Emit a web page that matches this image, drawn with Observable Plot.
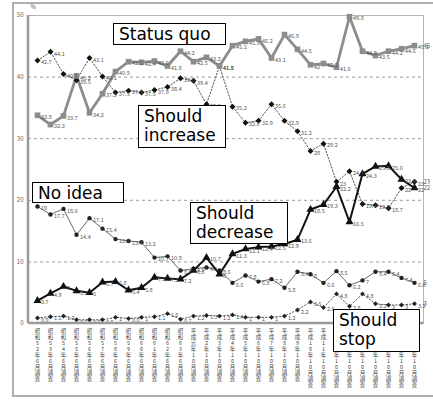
<!DOCTYPE html>
<html><head><meta charset="utf-8">
<script src="https://cdn.jsdelivr.net/npm/d3@7"></script>
<script src="https://cdn.jsdelivr.net/npm/@observablehq/plot@0.6"></script>
<style>
html,body{margin:0;padding:0;background:#fff;}
#wrap{position:relative;width:433px;height:401px;overflow:hidden;}
#outer{position:absolute;left:12px;top:2px;width:430px;height:395px;border:2px solid #b0b0b0;box-sizing:border-box;}
.box{position:absolute;background:#fff;border:1.5px solid #000;box-sizing:border-box;font-family:"DejaVu Sans",sans-serif;font-size:17px;line-height:19px;padding:1px 0 0 5px;color:#000;white-space:pre;}
#chart{position:absolute;left:0;top:0;}
</style></head>
<body><div id="wrap"><div id="outer"></div><div id="chart"></div>
<div class="box" style="left:113px;top:23px;width:113px;height:22px;">Status quo</div>
<div class="box" style="left:138px;top:105px;width:88px;height:43px;">Should
increase</div>
<div class="box" style="left:32px;top:182px;width:92px;height:21px;">No idea</div>
<div class="box" style="left:190px;top:202px;width:98px;height:42px;">Should
decrease</div>
<div class="box" style="left:333px;top:309px;width:87px;height:43px;">Should
stop</div>
</div>
<script>
const categories = [
 "昭和52年6月調査","昭和53年6月調査","昭和54年6月調査","昭和55年6月調査","昭和56年6月調査",
 "昭和57年6月調査","昭和58年6月調査","昭和59年6月調査","昭和60年6月調査","昭和61年6月調査",
 "昭和62年6月調査","昭和63年6月調査","平成元年10月調査","平成2年10月調査","平成3年10月調査",
 "平成4年10月調査","平成5年10月調査","平成6年10月調査","平成7年10月調査","平成8年10月調査",
 "平成9年10月調査","平成10年10月調査","平成11年10月調査","平成12年10月調査","平成13年10月調査",
 "平成14年10月調査","平成15年10月調査","平成16年10月調査","平成17年10月調査","平成18年10月調査"
];
const statusQuo = [33.8,32.3,33.7,40.2,34.2,37.3,40.9,42.5,42.4,42.6,41.8,44.2,42.5,43.2,41.8,45.1,45.8,46.2,43.1,46.9,44.5,42,42.2,41.6,49.8,44.2,43.5,44.2,44.6,45.1];
const shouldIncrease = [42.7,44.1,40.5,39.5,43.1,40.1,37.5,37.8,37.5,37.9,38.4,39.8,39.4,35.6,41.8,35.2,32.6,32.9,35.6,32.9,31.2,28,29.2,23,24.7,19.4,19.2,18.7,22,23];
const noIdea = [19,17.7,18.6,14.4,17.1,15.4,13.7,13.4,13.2,10.7,10.9,8.6,8.9,9.1,8.6,6.6,7.8,6.8,7.2,5.8,8.4,8,6.6,8.5,6.2,7,8.4,8.4,7.4,6.6];
const shouldDecrease = [3.7,4.9,6,5.3,5,6.7,6.8,5.4,5.8,7.5,7.3,7.2,8.6,10.7,8,11.3,12.1,12.4,12.5,12.9,13.6,18.5,19.3,22.2,16.5,24.3,25.5,25.6,23.4,22];
const shouldStop = [0.9,1.1,1.2,0.6,0.6,0.6,1,0.8,1,1.1,1.6,0.7,1.2,1.3,1.2,1.4,1,1,1,1.2,2.2,3.5,2.6,4.8,2.8,4.8,3.2,3,3,3.2];
const yTicks = [0,10,20,30,40,50];
const gridTicks = [10,20,30,40];
const endLabels = ["45","23","22","5","3"];

const rows = (arr, s) => arr.map((v,i)=>({x:categories[i], y:v, s}));
const SQ = rows(statusQuo,"sq"), SI = rows(shouldIncrease,"si"), NI = rows(noIdea,"ni"),
      SD = rows(shouldDecrease,"sd"), SS = rows(shouldStop,"ss");
const ends = [SQ,SI,SD,NI,SS].map((r,k)=>({...r[r.length-1], t:endLabels[k]}));
const lab = (data) => Plot.text(data, {x:"x", y:"y", text:d=>String(d.y), dx:3.5, dy:2, textAnchor:"start", fontSize:5.5, fill:"#555"});

const W=433,H=401,mL=28,mR=10,mT=15,mB=78;
const chart = Plot.plot({
  width:W, height:H, marginLeft:mL, marginRight:mR, marginTop:mT, marginBottom:mB,
  x:{type:"point", domain:categories, padding:0.4, label:null},
  y:{domain:[0,50], label:null},
  style:{fontFamily:"'Noto Sans CJK JP','DejaVu Sans',sans-serif", background:"transparent", overflow:"visible"},
  marks:[
    Plot.gridY(gridTicks, {stroke:"#9a9a9a", strokeOpacity:1, strokeDasharray:"3,3"}),
    Plot.frame({stroke:"#b5b5b5", strokeWidth:1}),
    Plot.axisY(yTicks, {tickSize:0, tickPadding:5, fontSize:6, fill:"#666", label:null}),
    Plot.axisX({tickSize:0, tickPadding:5, fontSize:5.4, fill:"#444", lineHeight:1.12, lineAnchor:"top", label:null,
      tickFormat:d=>Array.from(d).join("\n")}),
    Plot.line(NI, {x:"x", y:"y", stroke:"#6a6a6a", strokeWidth:1}),
    Plot.line(SS, {x:"x", y:"y", stroke:"#555", strokeWidth:1, strokeDasharray:"1.5,2"}),
    Plot.line(SI, {x:"x", y:"y", stroke:"#555", strokeWidth:1, strokeDasharray:"1.5,1.8"}),
    Plot.line(SD, {x:"x", y:"y", stroke:"#111", strokeWidth:2}),
    Plot.line(SQ, {x:"x", y:"y", stroke:"#8c8c8c", strokeWidth:2.8}),
    Plot.dot(NI, {x:"x", y:"y", symbol:"circle", r:2.2, fill:"#222"}),
    Plot.dot(SS, {x:"x", y:"y", symbol:"diamond2", r:2.2, fill:"#222"}),
    Plot.dot(SI, {x:"x", y:"y", symbol:"diamond2", r:2.7, fill:"#111"}),
    Plot.dot(SD, {x:"x", y:"y", symbol:"triangle", r:3.0, fill:"#111"}),
    Plot.dot(SQ, {x:"x", y:"y", symbol:"square", r:3.2, fill:"#8c8c8c"}),
    lab(NI), lab(SS), lab(SI), lab(SD), lab(SQ),
    Plot.text(ends, {x:"x", y:"y", text:"t", dx:9, textAnchor:"start", fontSize:6, fill:"#555"}),
    Plot.text(["%"], {frameAnchor:"top-left", dx:2, dy:-11, fontSize:6, fill:"#555"})
  ]
});
const svg = d3.select(chart);
svg.append("line").attr("x1",mL).attr("x2",mL).attr("y1",mT).attr("y2",H-mB).attr("stroke","#9a9a9a").attr("stroke-width",2.5);
svg.append("line").attr("x1",mL).attr("x2",W-mR).attr("y1",H-mB).attr("y2",H-mB).attr("stroke","#9a9a9a").attr("stroke-width",2.5);
document.getElementById("chart").appendChild(chart);
</script>
</body></html>
